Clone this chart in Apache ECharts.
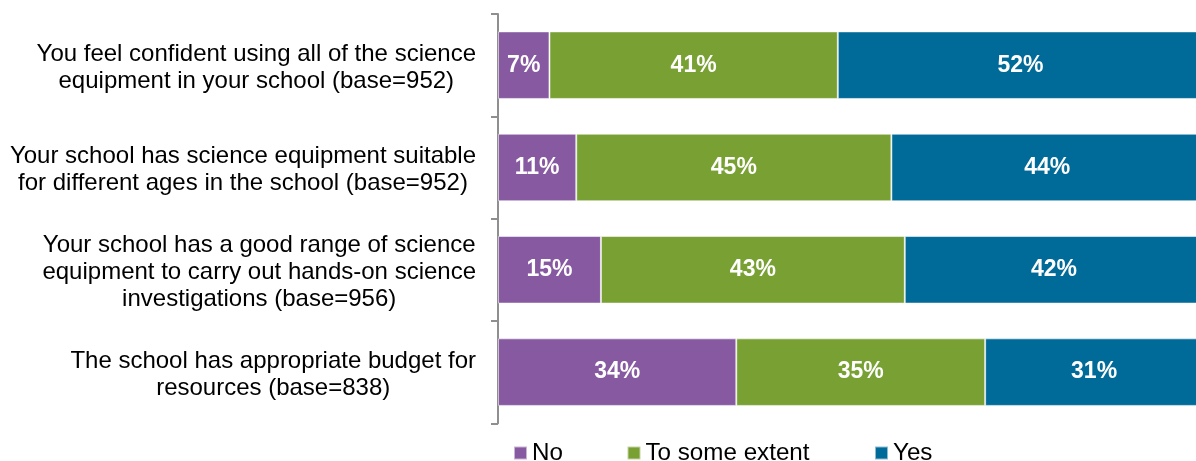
<!DOCTYPE html>
<html>
<head>
<meta charset="utf-8">
<script src="https://cdn.jsdelivr.net/npm/echarts@6/dist/echarts.min.js"></script>
<style>
html,body{margin:0;padding:0;background:#fff;}
#chart{width:1196px;height:461px;}
</style>
</head>
<body>
<div id="chart"></div>
<script>
const categories = [
  ["You feel confident using all of the science", "equipment in your school (base=952)"],
  ["Your school has science equipment suitable", "for different ages in the school (base=952)"],
  ["Your school has a good range of science", "equipment to carry out hands-on science", "investigations (base=956)"],
  ["The school has appropriate budget for", "resources (base=838)"]
];
const seriesNames = ["No", "To some extent", "Yes"];
const noValues = [7.3, 11.1, 14.6, 33.8];
const someValues = [40.9, 44.7, 43.1, 35.3];
const yesValues = [51.8, 44.2, 42.3, 30.9];
const colors = ["#8659A1", "#78A033", "#006A99"];

const FONT = "'Liberation Sans', Arial, sans-serif";
const chart = echarts.init(document.getElementById('chart'), null, {renderer: 'canvas'});

const catKeys = categories.map((c, i) => 'c' + i);
const labelMap = {};
categories.forEach((c, i) => { labelMap['c' + i] = c; });

function mkSeries(name, data, color) {
  return {
    name: name,
    type: 'bar',
    stack: 'total',
    data: data,
    barCategoryGap: '34%',
    itemStyle: {color: color, borderColor: 'rgba(255,255,255,0.55)', borderWidth: 1},
    label: {
      show: true,
      position: 'inside',
      color: '#fff',
      fontFamily: FONT,
      fontWeight: 'bold',
      fontSize: 23,
      formatter: p => Math.round(p.value) + '%'
    },
    emphasis: {disabled: true}
  };
}

function mkLegend(name, left) {
  return {
    data: [name],
    left: left,
    top: 441,
    padding: 0,
    itemWidth: 13,
    itemHeight: 13,
    icon: 'rect',
    selectedMode: false,
    textStyle: {fontFamily: FONT, fontSize: 24.2, color: '#000'}
  };
}

chart.setOption({
  animation: false,
  backgroundColor: '#fff',
  grid: {left: 498, width: 705, top: 14, height: 409.3, containLabel: false, outerBoundsMode: 'none'},
  legend: [mkLegend('No', 513), mkLegend('To some extent', 626.5), mkLegend('Yes', 874)],
  xAxis: {
    type: 'value',
    min: 0,
    max: 100,
    show: false
  },
  yAxis: {
    type: 'category',
    inverse: true,
    data: catKeys,
    axisLine: {show: true, lineStyle: {color: '#8f8f8f', width: 2}},
    axisTick: {show: true, length: 7, lineStyle: {color: '#8f8f8f', width: 2}},
    splitLine: {show: false},
    axisLabel: {
      margin: 22,
      padding: [5, 0, 0, 0],
      formatter: v => labelMap[v].map(l => '{c|' + l + '}').join('\n'),
      rich: {
        c: {align: 'center', fontFamily: FONT, fontSize: 24, lineHeight: 27, color: '#000'}
      }
    }
  },
  series: [
    mkSeries(seriesNames[0], noValues, colors[0]),
    mkSeries(seriesNames[1], someValues, colors[1]),
    mkSeries(seriesNames[2], yesValues, colors[2])
  ]
});
</script>
</body>
</html>
